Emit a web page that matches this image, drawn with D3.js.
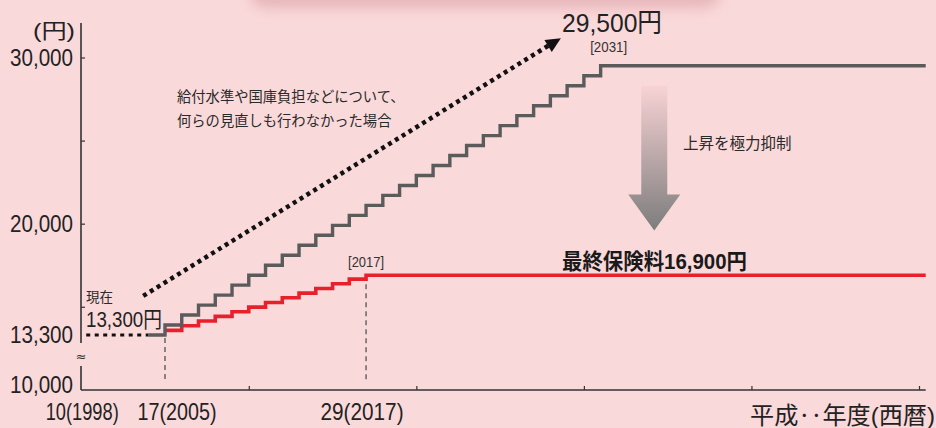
<!DOCTYPE html>
<html>
<head>
<meta charset="utf-8">
<script src="https://cdn.jsdelivr.net/npm/d3@7"></script>
<style>
  body { margin: 0; background: #fad9da; }
  svg { display: block; font-family: "Liberation Sans", "Noto Sans CJK JP", sans-serif; }
  .jp { font-family: "Noto Sans CJK JP", sans-serif; }
</style>
</head>
<body>
<svg></svg>
<script>
// premium without reform (gray) and with the 2004 reform (red), yen per month
const grayYears  = [2004,2005,2006,2007,2008,2009,2010,2011,2012,2013,2014,2015,2016,2017,
                    2018,2019,2020,2021,2022,2023,2024,2025,2026,2027,2028,2029,2030,2031];
const grayValues = [13300,13900,14500,15100,15700,16300,16900,17500,18100,18700,19300,19900,20500,21100,
                    21700,22300,22900,23500,24100,24700,25300,25900,26500,27100,27700,28300,28900,29500];
const redYears   = [2005,2006,2007,2008,2009,2010,2011,2012,2013,2014,2015,2016,2017];
const redValues  = [13580,13860,14140,14420,14700,14980,15260,15540,15820,16100,16380,16660,16900];

const yTickLabels = [10000, 13300, 20000, 30000];
const yTickMarks  = [15000, 20000, 25000, 30000];
const xTickMarks  = [2010, 2020, 2030, 2040, 2050];
const xLabels     = ["10(1998)", "17(2005)", "29(2017)"];
const xLabelYears = [2000, 2005, 2017];

const startYear = 2000, endYear = 2050.4, current = 13300;

let width = 936, height = 428,
    xScale = d3.scaleLinear().domain([2005, 2050]).range([165, 919]),
    yScale = d3.scaleLinear().domain([10000, 13300, 30000]).range([385, 335, 57.5]),
    axisY = 390,
    svg = d3.select("svg").attr("width", width).attr("height", height);

// squeeze a text to the narrow width of the original typeface
let narrow = (sel, w) => sel.attr("textLength", w).attr("lengthAdjust", "spacingAndGlyphs");

let defs = svg.append("defs");
defs.append("filter").attr("id", "blur")
    .attr("x", "-20%").attr("y", "-200%").attr("width", "140%").attr("height", "500%")
  .append("feGaussianBlur").attr("stdDeviation", 7);
let grad = defs.append("linearGradient").attr("id", "down")
    .attr("x1", 0).attr("y1", 0).attr("x2", 0).attr("y2", 1);
grad.append("stop").attr("offset", "0%").attr("stop-color", "#f8d3d5");
grad.append("stop").attr("offset", "100%").attr("stop-color", "#7c7c7c");

// background & top shading
svg.append("rect").attr("width", width).attr("height", height).attr("fill", "#fad9da");
svg.append("rect").attr("x", 250).attr("y", -22).attr("width", 470).attr("height", 30)
   .attr("rx", 15).attr("fill", "#e6b6ba").attr("filter", "url(#blur)");

// axes
let yLab = d3.axisLeft(yScale).tickValues(yTickLabels).tickSize(0).tickPadding(8)
    .tickFormat(d3.format(","));
svg.append("g").attr("transform", "translate(81,0)").call(yLab)
   .call(g => g.select(".domain").remove())
   .selectAll("text").attr("font-size", 24).attr("fill", "#222")
   .attr("font-family", "Liberation Sans, sans-serif")
   .call(narrow, 63);

let yTick = d3.axisLeft(yScale).tickValues(yTickMarks).tickSize(-4).tickFormat("");
svg.append("g").attr("transform", "translate(81,0)").call(yTick)
   .call(g => g.select(".domain").remove())
   .selectAll("line").attr("stroke", "#333").attr("stroke-width", 1.2);

let xTick = d3.axisBottom(xScale).tickValues(xTickMarks).tickSize(-4).tickFormat("");
svg.append("g").attr("transform", `translate(0,${axisY})`).call(xTick)
   .call(g => g.select(".domain").remove())
   .selectAll("line").attr("stroke", "#333").attr("stroke-width", 1.2);

let axisLines = svg.append("g").attr("stroke", "#333").attr("stroke-width", 1.6).attr("fill", "none");
axisLines.append("line").attr("x1", 81).attr("x2", 81).attr("y1", 23).attr("y2", yScale(current) + 8);
axisLines.append("line").attr("x1", 81).attr("x2", 81).attr("y1", 366).attr("y2", axisY);
axisLines.append("line").attr("x1", 81).attr("x2", xScale(endYear)).attr("y1", axisY).attr("y2", axisY);

svg.append("text").attr("x", 81).attr("y", 361).attr("text-anchor", "middle")
   .attr("font-size", 13).attr("fill", "#333")
   .attr("font-family", "DejaVu Sans").text("≈");

svg.append("text").attr("x", 75).attr("y", 38).attr("text-anchor", "end")
   .attr("font-size", 21).attr("fill", "#222").text("(円)").call(narrow, 42);

let xLabelW = [73, 79, 83];
svg.selectAll(".xlab").data(xLabels).enter().append("text")
   .attr("x", (d, i) => xScale(xLabelYears[i]) + [1, 12, -4][i])
   .attr("y", 420).attr("text-anchor", "middle").attr("font-size", 24).attr("fill", "#222")
   .attr("textLength", (d, i) => xLabelW[i]).attr("lengthAdjust", "spacingAndGlyphs")
   .text(d => d);

svg.append("text").attr("x", 935).attr("y", 424).attr("text-anchor", "end")
   .attr("font-size", 24).attr("fill", "#222").text("平成‥年度(西暦)").call(narrow, 185);

// dashed guides
let guides = svg.append("g").attr("stroke", "#666").attr("stroke-width", 1.5).attr("stroke-dasharray", "5,4");
guides.append("line").attr("x1", xScale(2005)).attr("x2", xScale(2005))
      .attr("y1", yScale(current) + 3).attr("y2", 383);
guides.append("line").attr("x1", xScale(2017)).attr("x2", xScale(2017))
      .attr("y1", yScale(16900)).attr("y2", 383);

// step lines
let step = d3.line().x(d => xScale(d[0])).y(d => yScale(d[1])).curve(d3.curveStepAfter);
let redPts  = redYears.map((y, i) => [y, redValues[i]]).concat([[endYear, redValues[redValues.length - 1]]]);
let grayPts = grayYears.map((y, i) => [y, grayValues[i]]).concat([[endYear, grayValues[grayValues.length - 1]]]);

svg.append("path").attr("d", step(redPts)).attr("fill", "none")
   .attr("stroke", "#e8202b").attr("stroke-width", 3.6);
svg.append("path").attr("d", step(grayPts)).attr("fill", "none")
   .attr("stroke", "#5b5b5b").attr("stroke-width", 3.4);

// current level dotted
svg.append("line").attr("x1", xScale(startYear) + 5).attr("x2", xScale(2004))
   .attr("y1", yScale(current)).attr("y2", yScale(current))
   .attr("stroke", "#111").attr("stroke-width", 3).attr("stroke-dasharray", "4,4.5");

// dotted trend arrow
let a0 = [xScale(2003.7), yScale(15650)], a1 = [xScale(2028.1), yScale(30850)];
svg.append("line").attr("x1", a0[0]).attr("y1", a0[1]).attr("x2", a1[0]).attr("y2", a1[1])
   .attr("stroke", "#111").attr("stroke-width", 4.5).attr("stroke-dasharray", "4,4");
let ang = Math.atan2(a1[1] - a0[1], a1[0] - a0[0]) * 180 / Math.PI;
svg.append("path").attr("d", "M8,0 L-7,-7 L-7,7 Z").attr("fill", "#111")
   .attr("transform", `translate(${a1[0] + 2},${a1[1] - 1}) rotate(${ang})`);

// gray down arrow
let ax = xScale(2034.2), aTop = yScale(28300), aNeck = yScale(21760), aTip = yScale(19590);
svg.append("path").attr("fill", "url(#down)")
   .attr("d", `M${ax - 13},${aTop} L${ax + 13},${aTop} L${ax + 13},${aNeck} L${ax + 26},${aNeck}
               L${ax},${aTip} L${ax - 26},${aNeck} L${ax - 13},${aNeck} Z`);

// annotations
let jp = (x, y, size, txt, anchor) => svg.append("text").attr("class", "jp")
    .attr("x", x).attr("y", y).attr("font-size", size).attr("fill", "#2a2a2a")
    .attr("text-anchor", anchor || "start").text(txt);

jp(177, 102, 14.3, "給付水準や国庫負担などについて、");
jp(177, 126, 14.3, "何らの見直しも行わなかった場合");
jp(683, 149, 15.5, "上昇を極力抑制");
jp(86, 302, 13.5, "現在");

svg.append("text").attr("x", 86).attr("y", 327).attr("font-size", 22).attr("fill", "#222")
   .text("13,300円").call(narrow, 76);
svg.append("text").attr("x", 562).attr("y", 32).attr("font-size", 26).attr("fill", "#222")
   .text("29,500円").call(narrow, 100);
svg.append("text").attr("x", xScale(2031) + 8).attr("y", 52).attr("text-anchor", "middle")
   .attr("font-size", 15).attr("fill", "#333").text("[2031]").call(narrow, 37);
svg.append("text").attr("x", xScale(2017)).attr("y", 267).attr("text-anchor", "middle")
   .attr("font-size", 15).attr("fill", "#333").text("[2017]").call(narrow, 36);
svg.append("text").attr("x", 562).attr("y", 269).attr("font-size", 22).attr("font-weight", "bold")
   .attr("fill", "#1a1a1a").text("最終保険料16,900円").call(narrow, 185);
</script>
</body>
</html>
